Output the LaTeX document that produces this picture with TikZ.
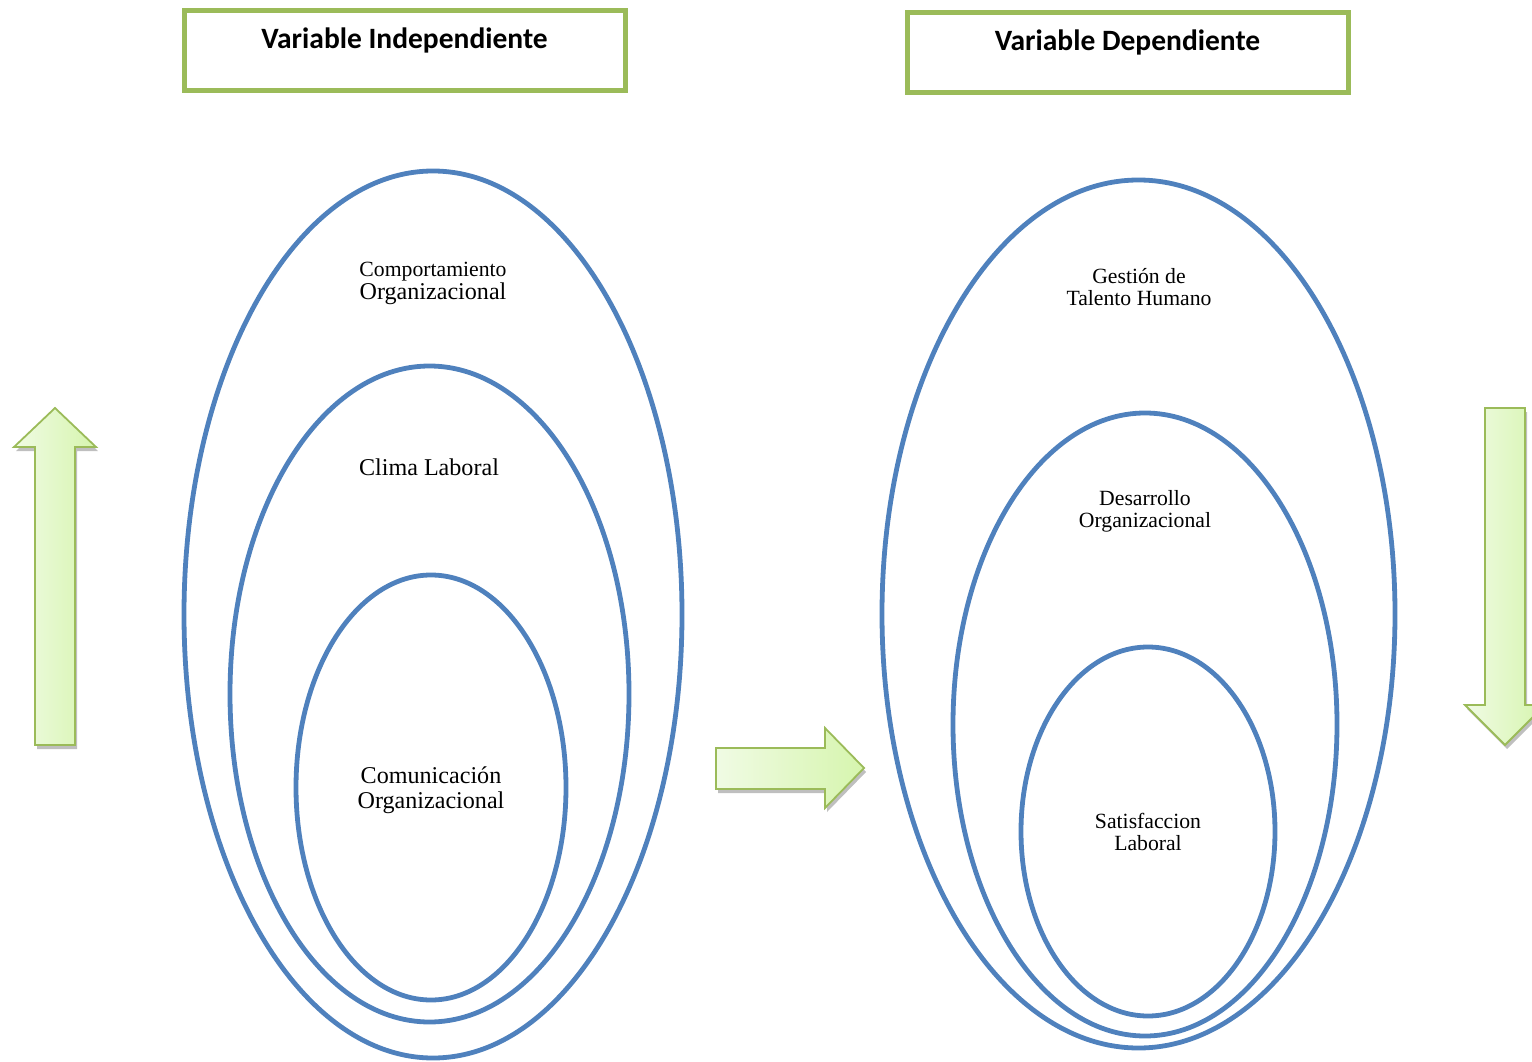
\documentclass[tikz,border=0pt]{standalone}
\usepackage{fontspec}
\setmainfont{Liberation Serif}
\newfontfamily\headfont{Carlito}
\usetikzlibrary{shapes.geometric,shadows}
\definecolor{ringblue}{HTML}{4F81BD}
\definecolor{boxgreen}{HTML}{9BBB59}
\definecolor{arrowline}{HTML}{9BBB59}
\definecolor{arrowlight}{HTML}{F0FBE4}
\definecolor{arrowdark}{HTML}{D6F5AE}
\tikzset{
  headbox/.style={draw=boxgreen, line width=5pt, minimum width=441pt, minimum height=80pt, inner sep=0pt},
  headtext/.style={font=\headfont\bfseries\fontsize{29.5}{32}\selectfont, inner sep=0pt},
  ring/.style={ellipse, draw=ringblue, line width=4.8pt, inner sep=0pt},
  ringlabel/.style={align=center, inner sep=0pt, font=\fontsize{21.7}{22}\selectfont},
  bigarrow/.style={draw=arrowline, line width=1.8pt, line join=miter,
    left color=arrowlight, right color=arrowdark,
    drop shadow={shadow xshift=2pt, shadow yshift=-4pt, opacity=0.25, fill=black}},
}
\begin{document}
\begin{tikzpicture}[x=1pt, y=-1pt]
\useasboundingbox (0,0) rectangle (1532,1062);

% variable headings
\node[headbox] (boxI) at (404.5,51) {};
\node[headtext] (titleI) at (404.5,40) {Variable Independiente};
\node[headbox] (boxD) at (1127.5,53) {};
\node[headtext] (titleD) at (1127.5,42) {Variable Dependiente};

% independent variable rings
\node[ring, minimum width=498pt, minimum height=887pt] (ringIa) at (433,614.5) {};
\node[ring, minimum width=399pt, minimum height=656pt] (ringIb) at (429.5,694) {};
\node[ring, minimum width=270pt, minimum height=425pt] (ringIc) at (431,787.5) {};

\node[ringlabel, font=\fontsize{24.1}{23}\selectfont] (lblIa) at (433,283.5) {{\fontsize{21.7}{23}\selectfont Comportamiento}\\Organizacional};
\node[ringlabel, font=\fontsize{24.1}{24}\selectfont] (lblIb) at (429,467) {Clima Laboral};
\node[ringlabel, font=\fontsize{24.1}{25}\selectfont] (lblIc) at (431,790) {Comunicación\\Organizacional};

% dependent variable rings
\node[ring, minimum width=513pt, minimum height=868pt] (ringDa) at (1138.5,614) {};
\node[ring, minimum width=384pt, minimum height=623pt] (ringDb) at (1145,724.5) {};
\node[ring, minimum width=254pt, minimum height=369pt] (ringDc) at (1148,831.5) {};

\node[ringlabel] (lblDa) at (1139,287) {Gestión de\\Talento Humano};
\node[ringlabel] (lblDb) at (1145,511) {Desarrollo\\Organizacional};
\node[ringlabel] (lblDc) at (1148,832) {Satisfaccion\\Laboral};

% block arrows
\path[bigarrow] (55,408) -- (96,447) -- (75,447) -- (75,745) -- (35,745) -- (35,447) -- (14,447) -- cycle;
\path[bigarrow] (864,768) -- (825,808) -- (825,789) -- (716,789) -- (716,748) -- (825,748) -- (825,728) -- cycle;
\path[bigarrow] (1505,745) -- (1465,705) -- (1485,705) -- (1485,408) -- (1525,408) -- (1525,705) -- (1545,705) -- cycle;
\end{tikzpicture}
\end{document}
